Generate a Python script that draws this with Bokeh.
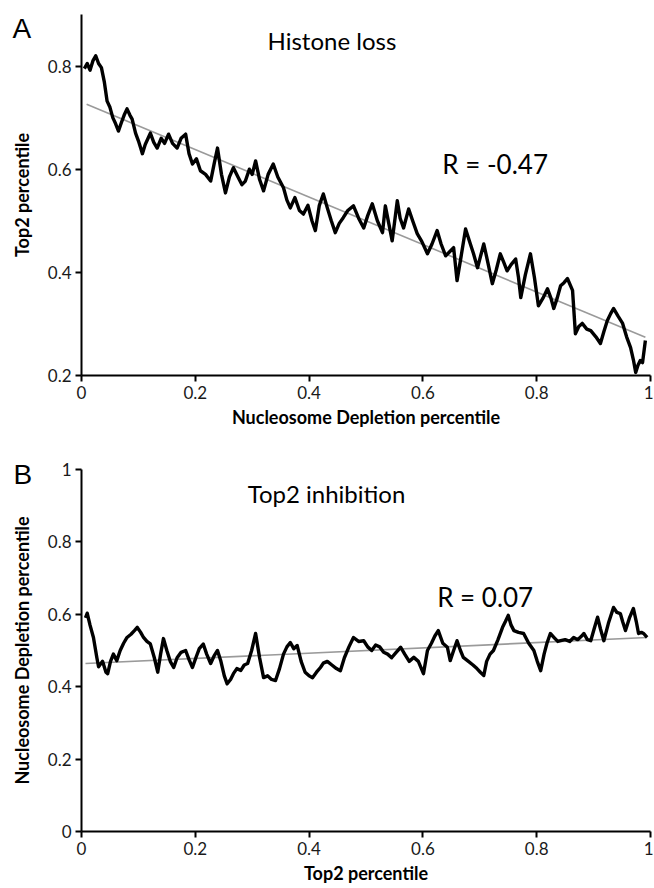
from bokeh.plotting import figure
from bokeh.layouts import column
from bokeh.models import Label, FixedTicker, Range1d
from bokeh.embed import file_html
from bokeh.resources import INLINE

# ---------------- data ----------------
xa = [0.005, 0.010, 0.015, 0.020, 0.025, 0.030, 0.035, 0.040, 0.045, 0.050, 0.055, 0.060, 0.065, 0.070, 0.075,
      0.080, 0.085, 0.089, 0.095, 0.100, 0.104, 0.107, 0.112, 0.117, 0.121, 0.127, 0.133, 0.140, 0.146, 0.153,
      0.160, 0.168, 0.175, 0.183, 0.189, 0.195, 0.202, 0.209, 0.218, 0.227, 0.233, 0.239, 0.246, 0.253, 0.260,
      0.267, 0.275, 0.282, 0.288, 0.295, 0.300, 0.306, 0.313, 0.320, 0.328, 0.337, 0.345, 0.355, 0.361, 0.367,
      0.375, 0.383, 0.390, 0.398, 0.405, 0.411, 0.418, 0.425, 0.432, 0.439, 0.446, 0.453, 0.460, 0.468, 0.478,
      0.487, 0.496, 0.503, 0.511, 0.520, 0.529, 0.534, 0.540, 0.546, 0.555, 0.560, 0.566, 0.575, 0.582, 0.590,
      0.598, 0.608, 0.616, 0.625, 0.632, 0.640, 0.647, 0.654, 0.660, 0.667, 0.675, 0.682, 0.689, 0.696, 0.701,
      0.707, 0.714, 0.722, 0.729, 0.736, 0.742, 0.748, 0.755, 0.763, 0.768, 0.772, 0.780, 0.789, 0.796, 0.803,
      0.811, 0.819, 0.825, 0.830, 0.836, 0.842, 0.848, 0.854, 0.863, 0.868, 0.874, 0.880, 0.888, 0.895, 0.904,
      0.912, 0.918, 0.924, 0.930, 0.935, 0.943, 0.951, 0.958, 0.965, 0.970, 0.974, 0.978, 0.982, 0.986, 0.991]
ya = [0.795, 0.805, 0.792, 0.810, 0.820, 0.805, 0.797, 0.770, 0.732, 0.720, 0.700, 0.688, 0.674, 0.690, 0.705,
      0.717, 0.705, 0.697, 0.670, 0.655, 0.641, 0.630, 0.648, 0.660, 0.670, 0.652, 0.641, 0.660, 0.650, 0.668,
      0.650, 0.641, 0.660, 0.668, 0.630, 0.610, 0.620, 0.597, 0.590, 0.577, 0.610, 0.641, 0.590, 0.554, 0.585,
      0.603, 0.585, 0.570, 0.577, 0.600, 0.590, 0.616, 0.580, 0.558, 0.590, 0.610, 0.585, 0.564, 0.540, 0.525,
      0.545, 0.520, 0.513, 0.530, 0.500, 0.481, 0.530, 0.552, 0.525, 0.500, 0.477, 0.495, 0.506, 0.520, 0.529,
      0.505, 0.486, 0.510, 0.533, 0.500, 0.477, 0.529, 0.495, 0.461, 0.539, 0.505, 0.486, 0.523, 0.500, 0.475,
      0.460, 0.436, 0.455, 0.481, 0.455, 0.432, 0.440, 0.448, 0.384, 0.430, 0.484, 0.460, 0.436, 0.409, 0.430,
      0.455, 0.420, 0.378, 0.405, 0.436, 0.420, 0.403, 0.415, 0.426, 0.390, 0.351, 0.395, 0.436, 0.390, 0.335,
      0.350, 0.368, 0.350, 0.330, 0.350, 0.374, 0.380, 0.388, 0.365, 0.281, 0.295, 0.301, 0.290, 0.287, 0.275,
      0.262, 0.285, 0.306, 0.320, 0.330, 0.315, 0.301, 0.275, 0.254, 0.230, 0.206, 0.220, 0.229, 0.225, 0.268]
trend_a_x = [0.009, 0.991]
trend_a_y = [0.726, 0.274]

xb = [0.007, 0.010, 0.015, 0.021, 0.027, 0.030, 0.037, 0.043, 0.046, 0.051, 0.056, 0.062, 0.068, 0.074, 0.080,
      0.087, 0.093, 0.098, 0.104, 0.109, 0.115, 0.121, 0.128, 0.134, 0.139, 0.144, 0.150, 0.156, 0.162, 0.168,
      0.175, 0.183, 0.189, 0.195, 0.201, 0.207, 0.214, 0.220, 0.227, 0.233, 0.239, 0.245, 0.251, 0.256, 0.262,
      0.267, 0.273, 0.280, 0.286, 0.292, 0.299, 0.306, 0.313, 0.320, 0.327, 0.334, 0.341, 0.348, 0.355, 0.361,
      0.367, 0.373, 0.379, 0.386, 0.393, 0.400, 0.406, 0.413, 0.420, 0.425, 0.432, 0.440, 0.448, 0.455, 0.462,
      0.470, 0.478, 0.487, 0.496, 0.503, 0.510, 0.517, 0.524, 0.531, 0.538, 0.545, 0.553, 0.561, 0.568, 0.576,
      0.584, 0.592, 0.601, 0.608, 0.615, 0.621, 0.627, 0.635, 0.643, 0.648, 0.654, 0.660, 0.666, 0.671, 0.680,
      0.688, 0.695, 0.701, 0.707, 0.712, 0.718, 0.724, 0.732, 0.740, 0.745, 0.750, 0.755, 0.760, 0.768, 0.777,
      0.786, 0.795, 0.801, 0.807, 0.813, 0.818, 0.824, 0.831, 0.837, 0.842, 0.850, 0.858, 0.865, 0.872, 0.879,
      0.883, 0.889, 0.895, 0.901, 0.907, 0.912, 0.918, 0.926, 0.935, 0.941, 0.947, 0.951, 0.956, 0.963, 0.970,
      0.975, 0.979, 0.984, 0.988, 0.994]
yb = [0.590, 0.603, 0.570, 0.536, 0.480, 0.455, 0.470, 0.440, 0.436, 0.470, 0.490, 0.472, 0.500, 0.520, 0.536,
      0.545, 0.555, 0.564, 0.550, 0.536, 0.525, 0.518, 0.480, 0.440, 0.490, 0.533, 0.500, 0.470, 0.453, 0.480,
      0.495, 0.500, 0.475, 0.453, 0.480, 0.505, 0.518, 0.490, 0.464, 0.485, 0.500, 0.470, 0.430, 0.408, 0.420,
      0.436, 0.450, 0.445, 0.460, 0.464, 0.500, 0.547, 0.480, 0.425, 0.430, 0.420, 0.417, 0.450, 0.490, 0.510,
      0.522, 0.505, 0.514, 0.470, 0.440, 0.430, 0.425, 0.440, 0.453, 0.465, 0.470, 0.460, 0.450, 0.444, 0.480,
      0.510, 0.536, 0.525, 0.527, 0.510, 0.500, 0.515, 0.510, 0.495, 0.490, 0.480, 0.495, 0.509, 0.490, 0.470,
      0.481, 0.470, 0.436, 0.500, 0.520, 0.540, 0.555, 0.520, 0.509, 0.472, 0.500, 0.527, 0.500, 0.481, 0.470,
      0.460, 0.450, 0.440, 0.431, 0.470, 0.490, 0.500, 0.530, 0.564, 0.580, 0.597, 0.570, 0.555, 0.550, 0.547,
      0.520, 0.500, 0.470, 0.444, 0.490, 0.520, 0.547, 0.535, 0.525, 0.527, 0.530, 0.525, 0.536, 0.530, 0.540,
      0.547, 0.530, 0.527, 0.560, 0.592, 0.560, 0.527, 0.575, 0.619, 0.605, 0.602, 0.580, 0.555, 0.590, 0.616,
      0.580, 0.547, 0.550, 0.547, 0.536]
trend_b_x = [0.007, 0.994]
trend_b_y = [0.464, 0.536]

x_ticks = [0, 0.2, 0.4, 0.6, 0.8, 1]
x_tick_labels = ["0", "0.2", "0.4", "0.6", "0.8", "1"]
ya_ticks = [0.2, 0.4, 0.6, 0.8]
ya_tick_labels = ["0.2", "0.4", "0.6", "0.8"]
yb_ticks = [0, 0.2, 0.4, 0.6, 0.8, 1]
yb_tick_labels = ["0", "0.2", "0.4", "0.6", "0.8", "1"]

FONT = "Lato"


def style(p, xt, xl, yt, yl, xlabel, ylabel):
    p.xgrid.visible = False
    p.ygrid.visible = False
    p.outline_line_color = None
    p.background_fill_color = "white"
    p.border_fill_color = "white"
    for ax, ticks, labels in ((p.xaxis[0], xt, xl), (p.yaxis[0], yt, yl)):
        ax.ticker = FixedTicker(ticks=ticks)
        ax.major_label_overrides = {t: s for t, s in zip(ticks, labels)}
        ax.axis_line_width = 2
        ax.axis_line_color = "black"
        ax.major_tick_line_width = 2
        ax.major_tick_line_color = "black"
        ax.major_tick_out = 6
        ax.major_tick_in = 0
        ax.minor_tick_line_color = None
        ax.major_label_text_font = FONT
        ax.major_label_text_font_size = "17px"
        ax.major_label_text_color = "#1a1a1a"
        ax.major_label_standoff = 4
        ax.axis_label_text_font = FONT
        ax.axis_label_text_font_size = "18px"
        ax.axis_label_text_font_style = "bold"
        ax.axis_label_text_color = "black"
    p.xaxis[0].axis_label = xlabel
    p.yaxis[0].axis_label = ylabel
    p.xaxis[0].axis_label_standoff = 4
    p.yaxis[0].axis_label_standoff = 12
    p.yaxis[0].major_label_orientation = "horizontal"


def panel_letter(p, offset, standoff):
    # the panel letter is the figure's own title, pulled down beside the y axis
    t = p.title
    t.align = "left"
    t.offset = offset
    t.standoff = standoff
    t.text_font = "Liberation Sans"
    t.text_font_size = "28px"
    t.text_font_style = "normal"
    t.text_color = "black"


def lab(p, x, y, text, size, font=FONT):
    p.add_layout(Label(x=x, y=y, text=text, text_font=font, text_font_size=size,
                       text_baseline="alphabetic", text_align="left", text_color="black"))


# ---------------- panel A ----------------
pa = figure(title="A", frame_width=569, frame_height=361, min_border_left=81, min_border_right=3,
            min_border_top=14, min_border_bottom=79, x_range=Range1d(0, 1), y_range=Range1d(0.2, 0.9),
            output_backend="svg", toolbar_location=None)
style(pa, x_ticks, x_tick_labels, ya_ticks, ya_tick_labels,
      "Nucleosome Depletion percentile", "Top2 percentile")
panel_letter(pa, -69, -58)
pa.line(trend_a_x, trend_a_y, line_color="#9a9a9a", line_width=1.6)
pa.line(xa, ya, line_color="black", line_width=3.4, line_join="round")
lab(pa, 0.327, 0.85, "Histone loss", "24px")
lab(pa, 0.634, 0.611, "R = -0.47", "26px")

# ---------------- panel B ----------------
pb = figure(title="B", frame_width=569, frame_height=362, min_border_left=81, min_border_right=3,
            min_border_top=15, min_border_bottom=56, x_range=Range1d(0, 1), y_range=Range1d(0, 1),
            output_backend="svg", toolbar_location=None)
style(pb, x_ticks, x_tick_labels, yb_ticks, yb_tick_labels,
      "Top2 percentile", "Nucleosome Depletion percentile")
panel_letter(pb, -68, -40)
pb.line(trend_b_x, trend_b_y, line_color="#9a9a9a", line_width=1.6)
pb.line(xb, yb, line_color="black", line_width=3.4, line_join="round")
lab(pb, 0.292, 0.934, "Top2 inhibition", "24px")
lab(pb, 0.625, 0.647, "R = 0.07", "26px")

layout = column(pa, pb, spacing=0)
open("out.html", "w").write(file_html(layout, INLINE))
